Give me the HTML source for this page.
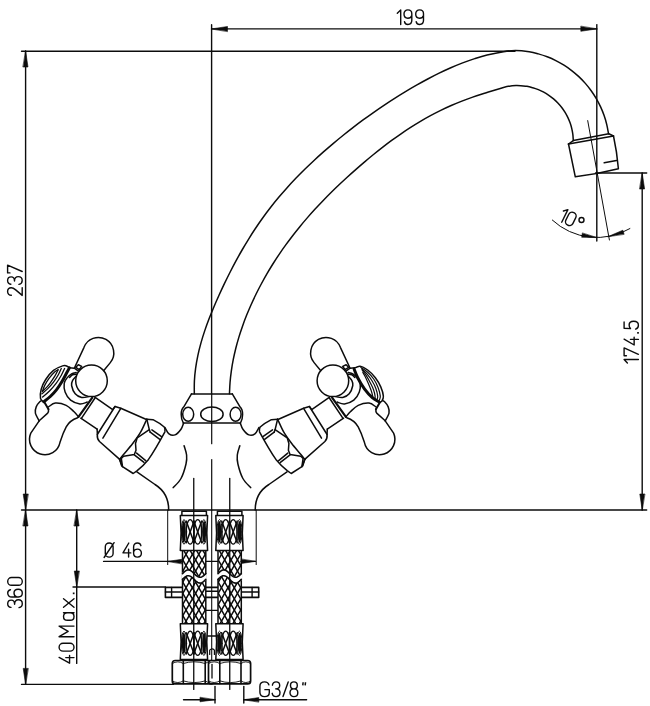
<!DOCTYPE html>
<html><head><meta charset="utf-8"><title>drawing</title>
<style>
html,body{margin:0;padding:0;background:#fff;}
svg{display:block;}
text{font-family:"Liberation Sans",sans-serif;fill:#0c0c0c;stroke:none;}
</style></head><body>
<svg width="650" height="706" viewBox="0 0 650 706">
<rect x="0" y="0" width="650" height="706" fill="#fff"/>
<g fill="none" stroke="#0c0c0c" stroke-width="1.5" stroke-linecap="round" stroke-linejoin="round">
<line x1="21.50" y1="51.20" x2="515.00" y2="51.20" stroke-width="1.4" />
<line x1="25.60" y1="51.00" x2="25.60" y2="684.40" stroke-width="1.4" />
<path d="M25.60 51.00 L28.00 67.00 L23.20 67.00 Z" fill="#0c0c0c" stroke="#0c0c0c" stroke-width="0.6"/>
<path d="M25.60 510.00 L23.20 494.00 L28.00 494.00 Z" fill="#0c0c0c" stroke="#0c0c0c" stroke-width="0.6"/>
<path d="M25.60 510.00 L28.00 526.00 L23.20 526.00 Z" fill="#0c0c0c" stroke="#0c0c0c" stroke-width="0.6"/>
<path d="M25.60 684.40 L23.20 668.40 L28.00 668.40 Z" fill="#0c0c0c" stroke="#0c0c0c" stroke-width="0.6"/>
<line x1="21.50" y1="510.00" x2="646.70" y2="510.00" stroke-width="1.4" />
<line x1="21.50" y1="684.40" x2="173.70" y2="684.40" stroke-width="1.4" />
<line x1="211.50" y1="28.90" x2="596.80" y2="28.90" stroke-width="1.4" />
<path d="M211.50 28.90 L227.50 26.50 L227.50 31.30 Z" fill="#0c0c0c" stroke="#0c0c0c" stroke-width="0.6"/>
<path d="M596.80 28.90 L580.80 31.30 L580.80 26.50 Z" fill="#0c0c0c" stroke="#0c0c0c" stroke-width="0.6"/>
<line x1="211.60" y1="24.80" x2="211.60" y2="394.00" stroke-width="1.4" />
<line x1="596.80" y1="24.60" x2="596.80" y2="241.00" stroke-width="1.4" />
<line x1="642.20" y1="173.00" x2="642.20" y2="510.00" stroke-width="1.4" />
<path d="M642.20 173.00 L644.60 189.00 L639.80 189.00 Z" fill="#0c0c0c" stroke="#0c0c0c" stroke-width="0.6"/>
<path d="M642.20 510.00 L639.80 494.00 L644.60 494.00 Z" fill="#0c0c0c" stroke="#0c0c0c" stroke-width="0.6"/>
<line x1="595.50" y1="173.00" x2="646.70" y2="173.00" stroke-width="1.4" />
<path d="M194.31 393.80 C194.32 391.65 194.18 385.19 194.40 380.92 C194.62 376.64 195.06 372.37 195.63 368.14 C196.20 363.91 196.96 359.71 197.84 355.53 C198.72 351.36 199.77 347.22 200.91 343.11 C202.05 339.00 203.33 334.92 204.69 330.88 C206.05 326.84 207.53 322.83 209.06 318.85 C210.59 314.87 212.21 310.92 213.87 306.99 C215.53 303.07 217.26 299.17 219.01 295.29 C220.77 291.40 222.56 287.54 224.40 283.69 C226.24 279.85 228.12 276.03 230.05 272.23 C231.98 268.43 233.96 264.65 235.98 260.91 C238.01 257.16 240.09 253.44 242.23 249.75 C244.36 246.06 246.55 242.40 248.80 238.78 C251.05 235.16 253.36 231.57 255.73 228.03 C258.09 224.48 260.52 220.98 263.02 217.52 C265.51 214.06 268.07 210.65 270.69 207.29 C273.31 203.93 276.00 200.61 278.74 197.35 C281.47 194.09 284.28 190.88 287.12 187.71 C289.97 184.54 292.87 181.43 295.82 178.35 C298.76 175.28 301.76 172.26 304.79 169.28 C307.83 166.30 310.91 163.37 314.02 160.47 C317.13 157.58 320.28 154.73 323.46 151.92 C326.65 149.11 329.86 146.34 333.11 143.60 C336.35 140.87 339.63 138.17 342.93 135.50 C346.23 132.84 349.56 130.21 352.92 127.62 C356.28 125.03 359.67 122.47 363.09 119.96 C366.50 117.44 369.95 114.96 373.43 112.52 C376.90 110.08 380.40 107.68 383.94 105.32 C387.47 102.96 391.03 100.64 394.63 98.36 C398.22 96.08 401.84 93.84 405.49 91.65 C409.14 89.46 412.82 87.30 416.53 85.20 C420.24 83.10 423.97 81.03 427.74 79.03 C431.51 77.03 435.31 75.07 439.16 73.19 C443.00 71.32 446.87 69.50 450.79 67.78 C454.70 66.07 458.66 64.42 462.65 62.89 C466.64 61.36 470.68 59.91 474.75 58.60 C478.81 57.29 482.27 56.16 487.07 55.01 C491.86 53.86 498.76 52.44 503.50 51.70 C508.24 50.96 511.22 50.59 515.50 50.60 C519.78 50.61 525.37 51.24 529.18 51.78 C532.98 52.32 535.32 53.01 538.33 53.85 C541.33 54.69 544.32 55.67 547.23 56.79 C550.14 57.92 553.02 59.18 555.81 60.58 C558.60 61.98 561.34 63.52 563.99 65.18 C566.63 66.84 569.21 68.64 571.68 70.55 C574.15 72.45 576.54 74.49 578.82 76.63 C581.10 78.76 583.28 81.02 585.34 83.37 C587.40 85.71 589.36 88.17 591.18 90.71 C593.01 93.24 594.72 95.87 596.29 98.57 C597.86 101.27 599.31 104.06 600.61 106.90 C601.92 109.73 603.09 112.65 604.11 115.60 C605.14 118.55 606.03 121.56 606.76 124.59 C607.50 127.63 608.24 132.27 608.53 133.80" />
<path d="M229.46 393.79 C229.56 391.87 229.75 386.11 230.06 382.28 C230.38 378.46 230.82 374.64 231.35 370.83 C231.89 367.03 232.54 363.24 233.28 359.47 C234.03 355.70 234.88 351.95 235.81 348.22 C236.75 344.50 237.79 340.79 238.90 337.11 C240.02 333.43 241.23 329.77 242.51 326.15 C243.79 322.52 245.15 318.92 246.58 315.34 C248.01 311.77 249.52 308.23 251.08 304.71 C252.65 301.19 254.29 297.71 255.98 294.25 C257.68 290.80 259.44 287.37 261.26 283.98 C263.08 280.59 264.96 277.22 266.89 273.90 C268.82 270.57 270.82 267.28 272.86 264.02 C274.91 260.77 277.01 257.54 279.16 254.36 C281.31 251.17 283.51 248.02 285.76 244.91 C288.01 241.79 290.31 238.71 292.65 235.67 C295.00 232.63 297.39 229.63 299.82 226.67 C302.25 223.70 304.73 220.77 307.24 217.88 C309.75 214.98 312.30 212.13 314.89 209.31 C317.48 206.48 320.10 203.70 322.76 200.94 C325.41 198.19 328.10 195.47 330.81 192.78 C333.53 190.09 336.28 187.43 339.05 184.80 C341.82 182.18 344.62 179.58 347.44 177.00 C350.27 174.43 353.12 171.89 355.99 169.37 C358.86 166.85 361.75 164.35 364.66 161.88 C367.58 159.41 370.52 156.96 373.49 154.54 C376.45 152.13 379.45 149.74 382.47 147.40 C385.50 145.05 388.56 142.74 391.65 140.47 C394.74 138.20 397.87 135.97 401.03 133.79 C404.19 131.62 407.38 129.48 410.62 127.41 C413.85 125.34 417.12 123.31 420.43 121.35 C423.74 119.40 427.09 117.50 430.47 115.67 C433.85 113.84 437.28 112.08 440.73 110.39 C444.19 108.70 447.68 107.09 451.20 105.54 C454.72 103.99 458.28 102.52 461.86 101.11 C465.44 99.71 469.05 98.38 472.68 97.12 C476.31 95.85 478.51 95.17 483.64 93.55 C488.78 91.93 498.11 88.76 503.50 87.40 C508.89 86.04 512.09 85.57 516.00 85.40 C519.91 85.23 524.15 85.97 526.94 86.35 C529.73 86.73 530.83 87.15 532.74 87.69 C534.64 88.24 536.52 88.90 538.36 89.64 C540.19 90.39 541.99 91.24 543.74 92.17 C545.48 93.11 547.18 94.14 548.82 95.26 C550.46 96.38 552.04 97.59 553.55 98.87 C555.06 100.15 556.50 101.52 557.87 102.96 C559.23 104.39 560.53 105.91 561.73 107.48 C562.93 109.05 564.06 110.69 565.09 112.38 C566.12 114.07 567.07 115.83 567.92 117.62 C568.76 119.41 569.52 121.25 570.17 123.12 C570.82 124.99 571.38 126.91 571.83 128.83 C572.28 130.76 572.63 132.72 572.87 134.69 C573.12 136.65 573.22 139.63 573.29 140.62" />
<path d="M568.50 144.00 L573.30 140.60 L608.80 133.80 L613.50 136.00" />
<line x1="568.50" y1="144.00" x2="613.50" y2="136.00" />
<path d="M568.5 144 L575.3 176.8 Q597 174.2 618.4 168.8 Q617 152 613.5 136" />
<line x1="604.20" y1="162.80" x2="616.50" y2="160.40" />
<line x1="587.70" y1="120.60" x2="609.40" y2="240.00" stroke-width="1.0" />
<path d="M552.33 220.08 A65.20 65.20 0 0 0 629.89 228.58" stroke-width="1.0" />
<path d="M596.80 237.60 L581.67 237.24 L582.30 233.29 Z" fill="#0c0c0c" stroke="#0c0c0c" stroke-width="0.6"/>
<path d="M608.10 236.60 L622.89 230.18 L624.02 234.02 Z" fill="#0c0c0c" stroke="#0c0c0c" stroke-width="0.6"/>
<line x1="191.50" y1="393.90" x2="232.30" y2="393.90" />
<path d="M191.50 393.9 L183.80 406.9 C180.20 410 180.60 418.5 183.40 423.1" />
<ellipse cx="188.20" cy="414.3" rx="5.5" ry="7.0"/>
<path d="M232.30 393.9 L240.00 406.9 C243.60 410 243.20 418.5 240.40 423.1" />
<ellipse cx="235.60" cy="414.3" rx="5.5" ry="7.0"/>
<ellipse cx="211.9" cy="414.3" rx="11.2" ry="7.2"/>
<line x1="183.40" y1="423.10" x2="240.40" y2="423.10" />
<path d="M183.60 423.10 C183.17 424.12 182.43 427.23 181.00 429.20 C179.57 431.17 177.00 434.12 175.00 434.90 C173.00 435.68 170.68 435.13 169.00 433.90 C167.32 432.67 165.58 428.57 164.90 427.50" />
<path d="M136.90 471.9 L155.00 484.5 C163.00 489.5 168.70 498 168.70 510" />
<path d="M184.10 445.80 C184.52 447.33 186.28 451.97 186.60 455.00 C186.92 458.03 186.93 460.08 186.00 464.00 C185.07 467.92 183.13 474.57 181.00 478.50 C178.87 482.43 174.50 486.08 173.20 487.60" />
<line x1="167.70" y1="510.00" x2="167.70" y2="564.60" stroke-width="1.0" />
<path d="M240.30 423.10 C240.73 424.12 241.47 427.23 242.90 429.20 C244.33 431.17 246.90 434.12 248.90 434.90 C250.90 435.68 253.22 435.13 254.90 433.90 C256.58 432.67 258.32 428.57 259.00 427.50" />
<path d="M287.00 471.9 L268.90 484.5 C260.90 489.5 255.20 498 255.20 510" />
<path d="M239.80 445.80 C239.38 447.33 237.62 451.97 237.30 455.00 C236.98 458.03 236.97 460.08 237.90 464.00 C238.83 467.92 240.77 474.57 242.90 478.50 C245.03 482.43 249.40 486.08 250.70 487.60" />
<line x1="256.20" y1="510.00" x2="256.20" y2="564.60" stroke-width="1.0" />
<line x1="211.70" y1="394.00" x2="211.70" y2="443.70" stroke-width="1.2" />
<line x1="211.70" y1="459.60" x2="211.70" y2="510.00" stroke-width="1.2" />
<g>
<path d="M74.3 368.2 L83.9 347.6 A15.4 15.4 0 1 1 110.3 362.6 L103 371.5" fill="#fff"/>
<path d="M69.50 367.80 L74.30 368.20 L78.50 371.20" />
<path d="M75.80 367.30 L78.30 364.80 L81.70 366.40 L79.20 369.60Z" fill="#fff"/>
<path d="M76.20 372.50 C75.43 372.73 73.15 372.97 71.60 373.90 C70.05 374.83 68.13 376.50 66.90 378.10 C65.67 379.70 64.50 381.20 64.20 383.50 C63.90 385.80 64.03 389.12 65.10 391.90 C66.17 394.68 68.13 398.20 70.60 400.20 C73.07 402.20 77.13 403.58 79.90 403.90 C82.67 404.22 85.98 402.40 87.20 402.10" fill="#fff"/>
<path d="M76.20 376.20 C75.60 376.92 73.37 378.95 72.60 380.50 C71.83 382.05 71.17 383.28 71.60 385.50 C72.03 387.72 73.52 391.80 75.20 393.80 C76.88 395.80 79.38 397.03 81.70 397.50 C84.02 397.97 87.87 396.75 89.10 396.60" />
<path d="M69.50 377.50 C70.00 377.05 71.17 375.35 72.50 374.80 C73.83 374.25 76.67 374.30 77.50 374.20" />
<circle cx="91.5" cy="380.8" r="15.8" fill="#fff"/>
<path d="M39.2 420.8 L30.8 433.1 A15.4 15.4 0 1 0 60 442.3 C62 436 64 431 66.2 426.9 C68 423.5 72 419.5 77.7 417.7" />
<path d="M39.20 420.80 C38.57 419.52 35.90 415.42 35.40 413.10 C34.90 410.78 35.43 408.83 36.20 406.90 C36.97 404.97 38.85 402.65 40.00 401.50 C41.15 400.35 42.58 400.25 43.10 400.00" />
<path d="M43.1 400 L48.5 409.2" stroke-width="2.0" />
<path d="M48.5 409.2 C48.8 411.5 48.2 412.5 47.7 413.1 L39.2 420.8" />
<path d="M48.50 406.90 C49.65 406.27 52.45 403.35 55.40 403.10 C58.35 402.85 63.13 404.00 66.20 405.40 C69.27 406.80 71.75 409.58 73.80 411.50 C75.85 413.42 77.72 416.00 78.50 416.90" />
<line x1="78.50" y1="416.90" x2="92.30" y2="397.70" stroke-width="2.2" />
<line x1="81.40" y1="418.40" x2="95.00" y2="398.00" />
<line x1="94.80" y1="397.10" x2="112.70" y2="409.60" />
<line x1="80.80" y1="418.20" x2="97.10" y2="429.10" />
<path d="M112.7 409.6 L115 406.5 L120.8 408.3 L147 419.7" />
<path d="M115 406.5 L97.3 434.5 C97 438 98 440 99.5 441.5 L119.7 459.4" />
<line x1="120.80" y1="408.30" x2="102.90" y2="438.20" />
<line x1="97.10" y1="429.10" x2="97.40" y2="434.50" />
<path d="M146.8 419.2 L153 419.7 Q160 423.3 164.2 427 Q165.6 429.5 164.9 431.8 Q155 450 148.5 459.4 Q143 466 137.2 470.7 L133.2 473.5 L122.5 466.7 L119.6 459.4" />
<path d="M146.80 419.20 C145.77 421.37 142.95 428.15 140.60 432.20 C138.25 436.25 135.55 439.78 132.70 443.50 C129.85 447.22 125.68 451.85 123.50 454.50 C121.32 457.15 120.25 458.58 119.60 459.40" />
<path d="M146.80 419.20 L149.30 429.60 L137.20 437.80 L135.50 443.50 L136.00 450.30 L134.30 454.50 L123.60 456.20 L121.30 458.40 L122.50 466.70" />
<line x1="150.20" y1="432.20" x2="159.80" y2="439.40" />
<line x1="151.90" y1="429.90" x2="161.50" y2="436.70" />
<line x1="149.30" y1="429.60" x2="150.20" y2="432.20" />
<line x1="134.30" y1="454.80" x2="144.00" y2="462.40" />
<line x1="136.60" y1="453.10" x2="145.70" y2="460.70" />
<line x1="119.60" y1="459.40" x2="121.60" y2="465.80" />
<path d="M43.60 402.00 C43.08 401.40 40.90 400.52 40.50 398.40 C40.10 396.28 40.33 392.45 41.20 389.30 C42.07 386.15 43.65 382.65 45.70 379.50 C47.75 376.35 50.68 372.67 53.50 370.40 C56.32 368.13 60.43 366.63 62.60 365.90 C64.77 365.17 65.35 365.68 66.50 366.00 C67.65 366.32 69.00 367.50 69.50 367.80 L69.40 367.90 L66.60 373.00 L62.00 381.50 L56.80 389.30 L50.30 396.50 L43.80 401.70Z" fill="#fff" stroke="none"/>
<path d="M43.60 402.00 C43.08 401.40 40.90 400.52 40.50 398.40 C40.10 396.28 40.33 392.45 41.20 389.30 C42.07 386.15 43.65 382.65 45.70 379.50 C47.75 376.35 50.68 372.67 53.50 370.40 C56.32 368.13 60.43 366.63 62.60 365.90 C64.77 365.17 65.35 365.68 66.50 366.00 C67.65 366.32 69.00 367.50 69.50 367.80" />
<path d="M43.80 401.70 C44.88 400.83 48.13 398.57 50.30 396.50 C52.47 394.43 54.85 391.80 56.80 389.30 C58.75 386.80 60.37 384.22 62.00 381.50 C63.63 378.78 65.37 375.27 66.60 373.00 C67.83 370.73 68.93 368.75 69.40 367.90" stroke-width="3.0" />
<path d="M42.50 397.10 C43.67 396.08 47.23 393.28 49.50 391.00 C51.77 388.72 54.15 385.98 56.10 383.40 C58.05 380.82 59.78 377.98 61.20 375.50 C62.62 373.02 64.03 369.67 64.60 368.50" stroke-width="1.3" />
<path d="M41.80 393.90 C42.80 393.02 45.85 390.57 47.80 388.60 C49.75 386.63 51.77 384.37 53.50 382.10 C55.23 379.83 56.90 377.27 58.20 375.00 C59.50 372.73 60.78 369.58 61.30 368.50" stroke-width="1.3" />
<path d="M42.50 391.30 C43.18 390.65 45.30 388.82 46.60 387.40 C47.90 385.98 48.93 384.67 50.30 382.80 C51.67 380.93 53.50 378.37 54.80 376.20 C56.10 374.03 57.55 370.87 58.10 369.80" stroke-width="1.3" />
<path d="M42.50 391.30 C42.85 390.35 43.48 387.78 44.60 385.60 C45.72 383.42 47.53 380.47 49.20 378.20 C50.87 375.93 53.12 373.40 54.60 372.00 C56.08 370.60 57.52 370.17 58.10 369.80" stroke-width="1.3" />
</g>
<g transform="translate(424.4,0) scale(-1,1)">
<path d="M74.3 368.2 L83.9 347.6 A15.4 15.4 0 1 1 110.3 362.6 L103 371.5" fill="#fff"/>
<path d="M69.50 367.80 L74.30 368.20 L78.50 371.20" />
<path d="M75.80 367.30 L78.30 364.80 L81.70 366.40 L79.20 369.60Z" fill="#fff"/>
<path d="M76.20 372.50 C75.43 372.73 73.15 372.97 71.60 373.90 C70.05 374.83 68.13 376.50 66.90 378.10 C65.67 379.70 64.50 381.20 64.20 383.50 C63.90 385.80 64.03 389.12 65.10 391.90 C66.17 394.68 68.13 398.20 70.60 400.20 C73.07 402.20 77.13 403.58 79.90 403.90 C82.67 404.22 85.98 402.40 87.20 402.10" fill="#fff"/>
<path d="M76.20 376.20 C75.60 376.92 73.37 378.95 72.60 380.50 C71.83 382.05 71.17 383.28 71.60 385.50 C72.03 387.72 73.52 391.80 75.20 393.80 C76.88 395.80 79.38 397.03 81.70 397.50 C84.02 397.97 87.87 396.75 89.10 396.60" />
<path d="M69.50 377.50 C70.00 377.05 71.17 375.35 72.50 374.80 C73.83 374.25 76.67 374.30 77.50 374.20" />
<circle cx="91.5" cy="380.8" r="15.8" fill="#fff"/>
<path d="M39.2 420.8 L30.8 433.1 A15.4 15.4 0 1 0 60 442.3 C62 436 64 431 66.2 426.9 C68 423.5 72 419.5 77.7 417.7" />
<path d="M39.20 420.80 C38.57 419.52 35.90 415.42 35.40 413.10 C34.90 410.78 35.43 408.83 36.20 406.90 C36.97 404.97 38.85 402.65 40.00 401.50 C41.15 400.35 42.58 400.25 43.10 400.00" />
<path d="M43.1 400 L48.5 409.2" stroke-width="2.0" />
<path d="M48.5 409.2 C48.8 411.5 48.2 412.5 47.7 413.1 L39.2 420.8" />
<path d="M48.50 406.90 C49.65 406.27 52.45 403.35 55.40 403.10 C58.35 402.85 63.13 404.00 66.20 405.40 C69.27 406.80 71.75 409.58 73.80 411.50 C75.85 413.42 77.72 416.00 78.50 416.90" />
<line x1="78.50" y1="416.90" x2="92.30" y2="397.70" stroke-width="2.2" />
<line x1="81.40" y1="418.40" x2="95.00" y2="398.00" />
<line x1="94.80" y1="397.10" x2="112.70" y2="409.60" />
<line x1="80.80" y1="418.20" x2="97.10" y2="429.10" />
<path d="M112.7 409.6 L115 406.5 L120.8 408.3 L147 419.7" />
<path d="M115 406.5 L97.3 434.5 C97 438 98 440 99.5 441.5 L119.7 459.4" />
<line x1="120.80" y1="408.30" x2="102.90" y2="438.20" />
<line x1="97.10" y1="429.10" x2="97.40" y2="434.50" />
<path d="M146.8 419.2 L153 419.7 Q160 423.3 164.2 427 Q165.6 429.5 164.9 431.8 Q155 450 148.5 459.4 Q143 466 137.2 470.7 L133.2 473.5 L122.5 466.7 L119.6 459.4" />
<path d="M146.80 419.20 C145.77 421.37 142.95 428.15 140.60 432.20 C138.25 436.25 135.55 439.78 132.70 443.50 C129.85 447.22 125.68 451.85 123.50 454.50 C121.32 457.15 120.25 458.58 119.60 459.40" />
<path d="M146.80 419.20 L149.30 429.60 L137.20 437.80 L135.50 443.50 L136.00 450.30 L134.30 454.50 L123.60 456.20 L121.30 458.40 L122.50 466.70" />
<line x1="150.20" y1="432.20" x2="159.80" y2="439.40" />
<line x1="151.90" y1="429.90" x2="161.50" y2="436.70" />
<line x1="149.30" y1="429.60" x2="150.20" y2="432.20" />
<line x1="134.30" y1="454.80" x2="144.00" y2="462.40" />
<line x1="136.60" y1="453.10" x2="145.70" y2="460.70" />
<line x1="119.60" y1="459.40" x2="121.60" y2="465.80" />
</g>
<path d="M353.85 368.46 C354.87 368.08 357.69 365.90 360.00 366.15 C362.31 366.41 365.13 368.08 367.69 370.00 C370.26 371.92 373.21 374.87 375.38 377.69 C377.56 380.51 379.44 383.85 380.77 386.92 C382.10 390.00 383.21 393.79 383.38 396.15 C383.56 398.51 382.49 400.05 381.85 401.08 C381.21 402.10 379.92 402.10 379.54 402.31 L379.23 402.00 L372.31 397.69 L364.62 389.23 L357.69 377.69 L354.15 369.23Z" fill="#fff" stroke="none"/>
<path d="M353.85 368.46 C354.87 368.08 357.69 365.90 360.00 366.15 C362.31 366.41 365.13 368.08 367.69 370.00 C370.26 371.92 373.21 374.87 375.38 377.69 C377.56 380.51 379.44 383.85 380.77 386.92 C382.10 390.00 383.21 393.79 383.38 396.15 C383.56 398.51 382.49 400.05 381.85 401.08 C381.21 402.10 379.92 402.10 379.54 402.31" />
<path d="M354.15 369.23 C354.74 370.64 355.95 374.36 357.69 377.69 C359.44 381.03 362.18 385.90 364.62 389.23 C367.05 392.56 369.87 395.56 372.31 397.69 C374.74 399.82 378.08 401.28 379.23 402.00" stroke-width="3.0" />
<path d="M360.77 367.38 C361.92 368.21 365.51 370.33 367.69 372.31 C369.87 374.28 372.10 376.67 373.85 379.23 C375.59 381.79 377.08 384.87 378.15 387.69 C379.23 390.51 380.13 394.03 380.31 396.15 C380.49 398.28 379.41 399.74 379.23 400.46" stroke-width="1.2" />
<path d="M361.54 368.77 C362.44 369.62 365.18 371.85 366.92 373.85 C368.67 375.85 370.51 378.33 372.00 380.77 C373.49 383.21 374.90 385.90 375.85 388.46 C376.79 391.03 377.51 394.23 377.69 396.15 C377.87 398.08 377.05 399.36 376.92 400.00" stroke-width="1.2" />
<path d="M362.31 370.31 C362.95 371.15 364.87 373.38 366.15 375.38 C367.44 377.38 368.77 379.92 370.00 382.31 C371.23 384.69 372.69 387.38 373.54 389.69 C374.38 392.00 374.85 394.56 375.08 396.15 C375.31 397.74 374.95 398.72 374.92 399.23" stroke-width="1.2" />
<path d="M362.77 372.31 C363.21 373.08 364.44 375.00 365.38 376.92 C366.33 378.85 367.51 381.62 368.46 383.85 C369.41 386.08 370.38 388.31 371.08 390.31 C371.77 392.31 372.31 394.49 372.62 395.85 C372.92 397.21 372.87 398.03 372.92 398.46" stroke-width="1.2" />
<defs>
<clipPath id="hc0"><rect x="182.50" y="550.8" width="23.30" height="73.4"/></clipPath>
<clipPath id="hc1"><rect x="218.00" y="550.8" width="23.30" height="73.4"/></clipPath>
</defs>
<rect x="165.4" y="587.4" width="93.3" height="10" fill="#fff" stroke-width="1.6"/>
<line x1="165.40" y1="592.00" x2="182.00" y2="592.00" stroke-width="1.4" />
<line x1="241.00" y1="592.00" x2="258.70" y2="592.00" stroke-width="1.4" />
<line x1="171.60" y1="587.40" x2="171.60" y2="597.40" stroke-width="1.4" />
<line x1="252.10" y1="587.40" x2="252.10" y2="597.40" stroke-width="1.4" />
<line x1="205.80" y1="591.20" x2="218.00" y2="591.20" stroke-width="1.4" />
<line x1="205.80" y1="561.40" x2="218.00" y2="561.40" stroke-width="1.4" />
<line x1="205.80" y1="610.30" x2="218.00" y2="610.30" stroke-width="1.3" />
<line x1="207.60" y1="636.00" x2="216.20" y2="636.00" stroke-width="1.3" />
<path d="M209.7 654.5 L209.7 650.2 Q212 647.6 214.4 650.2 L214.4 654.5" stroke-width="1.2" />
<line x1="211.70" y1="510.00" x2="211.70" y2="661.00" stroke-width="1.1" />
<rect x="182.50" y="550.8" width="23.30" height="73.4" fill="#fff" stroke="none"/>
<g clip-path="url(#hc0)" stroke-width="1.0">
<line x1="78.22" y1="545.00" x2="128.22" y2="632.00" stroke-width="1.5" />
<line x1="140.18" y1="545.00" x2="90.18" y2="632.00" stroke-width="1.5" />
<line x1="84.62" y1="545.00" x2="134.62" y2="632.00" stroke-width="1.5" />
<line x1="146.58" y1="545.00" x2="96.58" y2="632.00" stroke-width="1.5" />
<line x1="91.02" y1="545.00" x2="141.02" y2="632.00" stroke-width="1.5" />
<line x1="152.98" y1="545.00" x2="102.98" y2="632.00" stroke-width="1.5" />
<line x1="97.42" y1="545.00" x2="147.42" y2="632.00" stroke-width="1.5" />
<line x1="159.38" y1="545.00" x2="109.38" y2="632.00" stroke-width="1.5" />
<line x1="103.82" y1="545.00" x2="153.82" y2="632.00" stroke-width="1.5" />
<line x1="165.78" y1="545.00" x2="115.78" y2="632.00" stroke-width="1.5" />
<line x1="110.22" y1="545.00" x2="160.22" y2="632.00" stroke-width="1.5" />
<line x1="172.18" y1="545.00" x2="122.18" y2="632.00" stroke-width="1.5" />
<line x1="116.62" y1="545.00" x2="166.62" y2="632.00" stroke-width="1.5" />
<line x1="178.58" y1="545.00" x2="128.58" y2="632.00" stroke-width="1.5" />
<line x1="123.02" y1="545.00" x2="173.02" y2="632.00" stroke-width="1.5" />
<line x1="184.98" y1="545.00" x2="134.98" y2="632.00" stroke-width="1.5" />
<line x1="129.42" y1="545.00" x2="179.42" y2="632.00" stroke-width="1.5" />
<line x1="191.38" y1="545.00" x2="141.38" y2="632.00" stroke-width="1.5" />
<line x1="135.82" y1="545.00" x2="185.82" y2="632.00" stroke-width="1.5" />
<line x1="197.78" y1="545.00" x2="147.78" y2="632.00" stroke-width="1.5" />
<line x1="142.22" y1="545.00" x2="192.22" y2="632.00" stroke-width="1.5" />
<line x1="204.18" y1="545.00" x2="154.18" y2="632.00" stroke-width="1.5" />
<line x1="148.62" y1="545.00" x2="198.62" y2="632.00" stroke-width="1.5" />
<line x1="210.58" y1="545.00" x2="160.58" y2="632.00" stroke-width="1.5" />
<line x1="155.02" y1="545.00" x2="205.02" y2="632.00" stroke-width="1.5" />
<line x1="216.98" y1="545.00" x2="166.98" y2="632.00" stroke-width="1.5" />
<line x1="161.42" y1="545.00" x2="211.42" y2="632.00" stroke-width="1.5" />
<line x1="223.38" y1="545.00" x2="173.38" y2="632.00" stroke-width="1.5" />
<line x1="167.82" y1="545.00" x2="217.82" y2="632.00" stroke-width="1.5" />
<line x1="229.78" y1="545.00" x2="179.78" y2="632.00" stroke-width="1.5" />
<line x1="174.22" y1="545.00" x2="224.22" y2="632.00" stroke-width="1.5" />
<line x1="236.18" y1="545.00" x2="186.18" y2="632.00" stroke-width="1.5" />
<line x1="180.62" y1="545.00" x2="230.62" y2="632.00" stroke-width="1.5" />
<line x1="242.58" y1="545.00" x2="192.58" y2="632.00" stroke-width="1.5" />
<line x1="187.02" y1="545.00" x2="237.02" y2="632.00" stroke-width="1.5" />
<line x1="248.98" y1="545.00" x2="198.98" y2="632.00" stroke-width="1.5" />
<line x1="193.42" y1="545.00" x2="243.42" y2="632.00" stroke-width="1.5" />
<line x1="255.38" y1="545.00" x2="205.38" y2="632.00" stroke-width="1.5" />
<line x1="199.82" y1="545.00" x2="249.82" y2="632.00" stroke-width="1.5" />
<line x1="261.78" y1="545.00" x2="211.78" y2="632.00" stroke-width="1.5" />
<line x1="206.22" y1="545.00" x2="256.22" y2="632.00" stroke-width="1.5" />
<line x1="268.18" y1="545.00" x2="218.18" y2="632.00" stroke-width="1.5" />
<line x1="212.62" y1="545.00" x2="262.62" y2="632.00" stroke-width="1.5" />
<line x1="274.58" y1="545.00" x2="224.58" y2="632.00" stroke-width="1.5" />
<line x1="219.02" y1="545.00" x2="269.02" y2="632.00" stroke-width="1.5" />
<line x1="280.98" y1="545.00" x2="230.98" y2="632.00" stroke-width="1.5" />
<line x1="225.42" y1="545.00" x2="275.42" y2="632.00" stroke-width="1.5" />
<line x1="287.38" y1="545.00" x2="237.38" y2="632.00" stroke-width="1.5" />
<line x1="231.82" y1="545.00" x2="281.82" y2="632.00" stroke-width="1.5" />
<line x1="293.78" y1="545.00" x2="243.78" y2="632.00" stroke-width="1.5" />
</g>
<line x1="182.50" y1="550.80" x2="182.50" y2="624.20" />
<line x1="205.80" y1="550.80" x2="205.80" y2="624.20" />
<path d="M181.50 573.60 L182.60 572.60 L183.70 571.68 L184.80 570.90 L185.90 570.31 L187.00 569.98 L188.10 569.91 L189.20 570.11 L190.30 570.58 L191.40 571.26 L192.50 572.13 L193.60 573.10 L194.70 574.10 L195.80 575.07 L196.90 575.94 L198.00 576.62 L199.10 577.09 L200.20 577.29 L201.30 577.22 L202.40 576.89 L203.50 576.30 L204.60 575.52 L205.70 574.60 L206.80 573.60 L206.80 579.40 L205.70 580.40 L204.60 581.32 L203.50 582.10 L202.40 582.69 L201.30 583.02 L200.20 583.09 L199.10 582.89 L198.00 582.42 L196.90 581.74 L195.80 580.87 L194.70 579.90 L193.60 578.90 L192.50 577.93 L191.40 577.06 L190.30 576.38 L189.20 575.91 L188.10 575.71 L187.00 575.78 L185.90 576.11 L184.80 576.70 L183.70 577.48 L182.60 578.40 L181.50 579.40 Z" fill="#fff" stroke="none"/>
<path d="M182.50 573.60 L183.51 572.60 L184.53 571.68 L185.54 570.90 L186.55 570.31 L187.57 569.98 L188.58 569.91 L189.59 570.11 L190.60 570.58 L191.62 571.26 L192.63 572.13 L193.64 573.10 L194.66 574.10 L195.67 575.07 L196.68 575.94 L197.70 576.62 L198.71 577.09 L199.72 577.29 L200.73 577.22 L201.75 576.89 L202.76 576.30 L203.77 575.52 L204.79 574.60 L205.80 573.60" stroke-width="1.6" />
<path d="M182.50 579.40 L183.51 578.40 L184.53 577.48 L185.54 576.70 L186.55 576.11 L187.57 575.78 L188.58 575.71 L189.59 575.91 L190.60 576.38 L191.62 577.06 L192.63 577.93 L193.64 578.90 L194.66 579.90 L195.67 580.87 L196.68 581.74 L197.70 582.42 L198.71 582.89 L199.72 583.09 L200.73 583.02 L201.75 582.69 L202.76 582.10 L203.77 581.32 L204.79 580.40 L205.80 579.40" stroke-width="1.6" />
<rect x="181.90" y="511.2" width="24.50" height="4.8" fill="#fff"/>
<path d="M180.30 515.60 L207.60 515.60 C206.50 527.85 206.50 538.35 207.60 550.60 L180.30 550.60 C181.40 538.35 181.40 527.85 180.30 515.60 Z" fill="#fff"/>
<ellipse cx="183.80" cy="531.90" rx="2.0" ry="10.80" fill="#0c0c0c" stroke="none"/>
<ellipse cx="204.10" cy="531.90" rx="2.0" ry="10.80" fill="#0c0c0c" stroke="none"/>
<ellipse cx="184.00" cy="531.90" rx="2.6" ry="12.30" stroke-width="1.0"/>
<ellipse cx="203.90" cy="531.90" rx="2.6" ry="12.30" stroke-width="1.0"/>
<line x1="186.20" y1="521.10" x2="194.15" y2="542.70" stroke-width="1.5" />
<line x1="194.15" y1="521.10" x2="186.20" y2="542.70" stroke-width="1.5" />
<ellipse cx="190.18" cy="531.90" rx="3.98" ry="12.30" stroke-width="1.3"/>
<line x1="193.75" y1="521.10" x2="201.70" y2="542.70" stroke-width="1.5" />
<line x1="201.70" y1="521.10" x2="193.75" y2="542.70" stroke-width="1.5" />
<ellipse cx="197.73" cy="531.90" rx="3.98" ry="12.30" stroke-width="1.3"/>
<path d="M180.30 623.80 L207.60 623.80 C206.50 636.33 206.50 647.07 207.60 659.60 L180.30 659.60 C181.40 647.07 181.40 636.33 180.30 623.80 Z" fill="#fff"/>
<ellipse cx="183.80" cy="643.30" rx="2.0" ry="10.60" fill="#0c0c0c" stroke="none"/>
<ellipse cx="204.10" cy="643.30" rx="2.0" ry="10.60" fill="#0c0c0c" stroke="none"/>
<ellipse cx="184.00" cy="643.30" rx="2.6" ry="12.10" stroke-width="1.0"/>
<ellipse cx="203.90" cy="643.30" rx="2.6" ry="12.10" stroke-width="1.0"/>
<line x1="186.20" y1="632.70" x2="194.15" y2="653.90" stroke-width="1.5" />
<line x1="194.15" y1="632.70" x2="186.20" y2="653.90" stroke-width="1.5" />
<ellipse cx="190.18" cy="643.30" rx="3.98" ry="12.10" stroke-width="1.3"/>
<line x1="193.75" y1="632.70" x2="201.70" y2="653.90" stroke-width="1.5" />
<line x1="201.70" y1="632.70" x2="193.75" y2="653.90" stroke-width="1.5" />
<ellipse cx="197.73" cy="643.30" rx="3.98" ry="12.10" stroke-width="1.3"/>
<rect x="218.00" y="550.8" width="23.30" height="73.4" fill="#fff" stroke="none"/>
<g clip-path="url(#hc1)" stroke-width="1.0">
<line x1="113.72" y1="545.00" x2="163.72" y2="632.00" stroke-width="1.5" />
<line x1="175.68" y1="545.00" x2="125.68" y2="632.00" stroke-width="1.5" />
<line x1="120.12" y1="545.00" x2="170.12" y2="632.00" stroke-width="1.5" />
<line x1="182.08" y1="545.00" x2="132.08" y2="632.00" stroke-width="1.5" />
<line x1="126.52" y1="545.00" x2="176.52" y2="632.00" stroke-width="1.5" />
<line x1="188.48" y1="545.00" x2="138.48" y2="632.00" stroke-width="1.5" />
<line x1="132.92" y1="545.00" x2="182.92" y2="632.00" stroke-width="1.5" />
<line x1="194.88" y1="545.00" x2="144.88" y2="632.00" stroke-width="1.5" />
<line x1="139.32" y1="545.00" x2="189.32" y2="632.00" stroke-width="1.5" />
<line x1="201.28" y1="545.00" x2="151.28" y2="632.00" stroke-width="1.5" />
<line x1="145.72" y1="545.00" x2="195.72" y2="632.00" stroke-width="1.5" />
<line x1="207.68" y1="545.00" x2="157.68" y2="632.00" stroke-width="1.5" />
<line x1="152.12" y1="545.00" x2="202.12" y2="632.00" stroke-width="1.5" />
<line x1="214.08" y1="545.00" x2="164.08" y2="632.00" stroke-width="1.5" />
<line x1="158.52" y1="545.00" x2="208.52" y2="632.00" stroke-width="1.5" />
<line x1="220.48" y1="545.00" x2="170.48" y2="632.00" stroke-width="1.5" />
<line x1="164.92" y1="545.00" x2="214.92" y2="632.00" stroke-width="1.5" />
<line x1="226.88" y1="545.00" x2="176.88" y2="632.00" stroke-width="1.5" />
<line x1="171.32" y1="545.00" x2="221.32" y2="632.00" stroke-width="1.5" />
<line x1="233.28" y1="545.00" x2="183.28" y2="632.00" stroke-width="1.5" />
<line x1="177.72" y1="545.00" x2="227.72" y2="632.00" stroke-width="1.5" />
<line x1="239.68" y1="545.00" x2="189.68" y2="632.00" stroke-width="1.5" />
<line x1="184.12" y1="545.00" x2="234.12" y2="632.00" stroke-width="1.5" />
<line x1="246.08" y1="545.00" x2="196.08" y2="632.00" stroke-width="1.5" />
<line x1="190.52" y1="545.00" x2="240.52" y2="632.00" stroke-width="1.5" />
<line x1="252.48" y1="545.00" x2="202.48" y2="632.00" stroke-width="1.5" />
<line x1="196.92" y1="545.00" x2="246.92" y2="632.00" stroke-width="1.5" />
<line x1="258.88" y1="545.00" x2="208.88" y2="632.00" stroke-width="1.5" />
<line x1="203.32" y1="545.00" x2="253.32" y2="632.00" stroke-width="1.5" />
<line x1="265.28" y1="545.00" x2="215.28" y2="632.00" stroke-width="1.5" />
<line x1="209.72" y1="545.00" x2="259.72" y2="632.00" stroke-width="1.5" />
<line x1="271.68" y1="545.00" x2="221.68" y2="632.00" stroke-width="1.5" />
<line x1="216.12" y1="545.00" x2="266.12" y2="632.00" stroke-width="1.5" />
<line x1="278.08" y1="545.00" x2="228.08" y2="632.00" stroke-width="1.5" />
<line x1="222.52" y1="545.00" x2="272.52" y2="632.00" stroke-width="1.5" />
<line x1="284.48" y1="545.00" x2="234.48" y2="632.00" stroke-width="1.5" />
<line x1="228.92" y1="545.00" x2="278.92" y2="632.00" stroke-width="1.5" />
<line x1="290.88" y1="545.00" x2="240.88" y2="632.00" stroke-width="1.5" />
<line x1="235.32" y1="545.00" x2="285.32" y2="632.00" stroke-width="1.5" />
<line x1="297.28" y1="545.00" x2="247.28" y2="632.00" stroke-width="1.5" />
<line x1="241.72" y1="545.00" x2="291.72" y2="632.00" stroke-width="1.5" />
<line x1="303.68" y1="545.00" x2="253.68" y2="632.00" stroke-width="1.5" />
<line x1="248.12" y1="545.00" x2="298.12" y2="632.00" stroke-width="1.5" />
<line x1="310.08" y1="545.00" x2="260.08" y2="632.00" stroke-width="1.5" />
<line x1="254.52" y1="545.00" x2="304.52" y2="632.00" stroke-width="1.5" />
<line x1="316.48" y1="545.00" x2="266.48" y2="632.00" stroke-width="1.5" />
<line x1="260.92" y1="545.00" x2="310.92" y2="632.00" stroke-width="1.5" />
<line x1="322.88" y1="545.00" x2="272.88" y2="632.00" stroke-width="1.5" />
<line x1="267.32" y1="545.00" x2="317.32" y2="632.00" stroke-width="1.5" />
<line x1="329.28" y1="545.00" x2="279.28" y2="632.00" stroke-width="1.5" />
</g>
<line x1="218.00" y1="550.80" x2="218.00" y2="624.20" />
<line x1="241.30" y1="550.80" x2="241.30" y2="624.20" />
<path d="M217.00 573.60 L218.10 572.60 L219.20 571.68 L220.30 570.90 L221.40 570.31 L222.50 569.98 L223.60 569.91 L224.70 570.11 L225.80 570.58 L226.90 571.26 L228.00 572.13 L229.10 573.10 L230.20 574.10 L231.30 575.07 L232.40 575.94 L233.50 576.62 L234.60 577.09 L235.70 577.29 L236.80 577.22 L237.90 576.89 L239.00 576.30 L240.10 575.52 L241.20 574.60 L242.30 573.60 L242.30 579.40 L241.20 580.40 L240.10 581.32 L239.00 582.10 L237.90 582.69 L236.80 583.02 L235.70 583.09 L234.60 582.89 L233.50 582.42 L232.40 581.74 L231.30 580.87 L230.20 579.90 L229.10 578.90 L228.00 577.93 L226.90 577.06 L225.80 576.38 L224.70 575.91 L223.60 575.71 L222.50 575.78 L221.40 576.11 L220.30 576.70 L219.20 577.48 L218.10 578.40 L217.00 579.40 Z" fill="#fff" stroke="none"/>
<path d="M218.00 573.60 L219.01 572.60 L220.03 571.68 L221.04 570.90 L222.05 570.31 L223.07 569.98 L224.08 569.91 L225.09 570.11 L226.10 570.58 L227.12 571.26 L228.13 572.13 L229.14 573.10 L230.16 574.10 L231.17 575.07 L232.18 575.94 L233.20 576.62 L234.21 577.09 L235.22 577.29 L236.23 577.22 L237.25 576.89 L238.26 576.30 L239.27 575.52 L240.29 574.60 L241.30 573.60" stroke-width="1.6" />
<path d="M218.00 579.40 L219.01 578.40 L220.03 577.48 L221.04 576.70 L222.05 576.11 L223.07 575.78 L224.08 575.71 L225.09 575.91 L226.10 576.38 L227.12 577.06 L228.13 577.93 L229.14 578.90 L230.16 579.90 L231.17 580.87 L232.18 581.74 L233.20 582.42 L234.21 582.89 L235.22 583.09 L236.23 583.02 L237.25 582.69 L238.26 582.10 L239.27 581.32 L240.29 580.40 L241.30 579.40" stroke-width="1.6" />
<rect x="217.40" y="511.2" width="24.50" height="4.8" fill="#fff"/>
<path d="M215.80 515.60 L243.10 515.60 C242.00 527.85 242.00 538.35 243.10 550.60 L215.80 550.60 C216.90 538.35 216.90 527.85 215.80 515.60 Z" fill="#fff"/>
<ellipse cx="219.30" cy="531.90" rx="2.0" ry="10.80" fill="#0c0c0c" stroke="none"/>
<ellipse cx="239.60" cy="531.90" rx="2.0" ry="10.80" fill="#0c0c0c" stroke="none"/>
<ellipse cx="219.50" cy="531.90" rx="2.6" ry="12.30" stroke-width="1.0"/>
<ellipse cx="239.40" cy="531.90" rx="2.6" ry="12.30" stroke-width="1.0"/>
<line x1="221.70" y1="521.10" x2="229.65" y2="542.70" stroke-width="1.5" />
<line x1="229.65" y1="521.10" x2="221.70" y2="542.70" stroke-width="1.5" />
<ellipse cx="225.68" cy="531.90" rx="3.98" ry="12.30" stroke-width="1.3"/>
<line x1="229.25" y1="521.10" x2="237.20" y2="542.70" stroke-width="1.5" />
<line x1="237.20" y1="521.10" x2="229.25" y2="542.70" stroke-width="1.5" />
<ellipse cx="233.23" cy="531.90" rx="3.98" ry="12.30" stroke-width="1.3"/>
<path d="M215.80 623.80 L243.10 623.80 C242.00 636.33 242.00 647.07 243.10 659.60 L215.80 659.60 C216.90 647.07 216.90 636.33 215.80 623.80 Z" fill="#fff"/>
<ellipse cx="219.30" cy="643.30" rx="2.0" ry="10.60" fill="#0c0c0c" stroke="none"/>
<ellipse cx="239.60" cy="643.30" rx="2.0" ry="10.60" fill="#0c0c0c" stroke="none"/>
<ellipse cx="219.50" cy="643.30" rx="2.6" ry="12.10" stroke-width="1.0"/>
<ellipse cx="239.40" cy="643.30" rx="2.6" ry="12.10" stroke-width="1.0"/>
<line x1="221.70" y1="632.70" x2="229.65" y2="653.90" stroke-width="1.5" />
<line x1="229.65" y1="632.70" x2="221.70" y2="653.90" stroke-width="1.5" />
<ellipse cx="225.68" cy="643.30" rx="3.98" ry="12.10" stroke-width="1.3"/>
<line x1="229.25" y1="632.70" x2="237.20" y2="653.90" stroke-width="1.5" />
<line x1="237.20" y1="632.70" x2="229.25" y2="653.90" stroke-width="1.5" />
<ellipse cx="233.23" cy="643.30" rx="3.98" ry="12.10" stroke-width="1.3"/>
<path d="M172.30 663.50 Q172.30 660.50 175.30 660.50 L211.00 660.50 Q214.00 660.50 214.00 663.50 L214.00 680.90 Q214.00 683.90 211.00 683.90 L175.30 683.90 Q172.30 683.90 172.30 680.90 Z" fill="#fff" stroke-width="1.7"/>
<line x1="183.30" y1="661.00" x2="183.30" y2="683.40" stroke-width="1.6" />
<line x1="205.20" y1="661.00" x2="205.20" y2="683.40" stroke-width="1.6" />
<path d="M172.30 663.50 Q177.80 660.00 183.30 663.50" stroke-width="0.9" />
<path d="M172.30 680.90 Q177.80 684.40 183.30 680.90" stroke-width="0.9" />
<path d="M183.30 663.50 Q194.25 660.00 205.20 663.50" stroke-width="0.9" />
<path d="M183.30 680.90 Q194.25 684.40 205.20 680.90" stroke-width="0.9" />
<path d="M205.20 663.50 Q209.60 660.00 214.00 663.50" stroke-width="0.9" />
<path d="M205.20 680.90 Q209.60 684.40 214.00 680.90" stroke-width="0.9" />
<path d="M208.50 663.50 Q208.50 660.50 211.50 660.50 L247.60 660.50 Q250.60 660.50 250.60 663.50 L250.60 680.90 Q250.60 683.90 247.60 683.90 L211.50 683.90 Q208.50 683.90 208.50 680.90 Z" fill="#fff" stroke-width="1.7"/>
<line x1="219.80" y1="661.00" x2="219.80" y2="683.40" stroke-width="1.6" />
<line x1="241.00" y1="661.00" x2="241.00" y2="683.40" stroke-width="1.6" />
<path d="M208.50 663.50 Q214.15 660.00 219.80 663.50" stroke-width="0.9" />
<path d="M208.50 680.90 Q214.15 684.40 219.80 680.90" stroke-width="0.9" />
<path d="M219.80 663.50 Q230.40 660.00 241.00 663.50" stroke-width="0.9" />
<path d="M219.80 680.90 Q230.40 684.40 241.00 680.90" stroke-width="0.9" />
<path d="M241.00 663.50 Q245.80 660.00 250.60 663.50" stroke-width="0.9" />
<path d="M241.00 680.90 Q245.80 684.40 250.60 680.90" stroke-width="0.9" />
<line x1="193.75" y1="478.50" x2="193.75" y2="689.40" stroke-width="1.3" />
<line x1="229.75" y1="478.50" x2="229.75" y2="689.40" stroke-width="1.3" />
<line x1="212.00" y1="664.50" x2="212.00" y2="678.00" stroke-width="1.3" />
<line x1="76.70" y1="510.00" x2="76.70" y2="663.40" stroke-width="1.4" />
<path d="M76.70 510.00 L79.10 526.00 L74.30 526.00 Z" fill="#0c0c0c" stroke="#0c0c0c" stroke-width="0.6"/>
<path d="M76.70 587.00 L74.30 571.00 L79.10 571.00 Z" fill="#0c0c0c" stroke="#0c0c0c" stroke-width="0.6"/>
<line x1="73.00" y1="587.00" x2="165.40" y2="587.00" stroke-width="1.4" />
<line x1="103.60" y1="561.40" x2="182.00" y2="561.40" stroke-width="1.4" />
<path d="M167.70 561.40 L181.70 559.30 L181.70 563.50 Z" fill="#0c0c0c" stroke="#0c0c0c" stroke-width="0.6"/>
<line x1="241.00" y1="561.40" x2="255.30" y2="561.40" stroke-width="1.4" />
<path d="M255.30 561.40 L241.30 563.50 L241.30 559.30 Z" fill="#0c0c0c" stroke="#0c0c0c" stroke-width="0.6"/>
<line x1="215.00" y1="686.50" x2="215.00" y2="703.00" stroke-width="1.4" />
<line x1="243.80" y1="686.50" x2="243.80" y2="703.00" stroke-width="1.4" />
<line x1="183.50" y1="699.70" x2="215.00" y2="699.70" stroke-width="1.4" />
<path d="M215.00 699.70 L200.00 701.80 L200.00 697.60 Z" fill="#0c0c0c" stroke="#0c0c0c" stroke-width="0.6"/>
<line x1="243.80" y1="699.70" x2="306.60" y2="699.70" stroke-width="1.4" />
<path d="M243.80 699.70 L258.80 697.60 L258.80 701.80 Z" fill="#0c0c0c" stroke="#0c0c0c" stroke-width="0.6"/>
<g transform="translate(396.10,9.20) rotate(0.0) translate(1.20,0.70) scale(1.000,0.986)"><path d="M0 3.4 L3.4 0 L3.4 14.8" stroke-width="1.40" vector-effect="non-scaling-stroke"/></g>
<g transform="translate(396.10,9.20) rotate(0.0) translate(7.90,0.70) scale(1.000,0.986)"><path d="M0.5 12 C0.9 13.7 2.2 14.8 3.9 14.8 C6.2 14.8 7.8 13.2 7.8 10.6 L7.8 4 C7.8 1.6 6.2 0 3.9 0 C1.6 0 0 1.6 0 4.2 C0 6.8 1.6 8.4 3.9 8.4 C5.9 8.4 7.3 7.2 7.8 5.6" stroke-width="1.40" vector-effect="non-scaling-stroke"/></g>
<g transform="translate(396.10,9.20) rotate(0.0) translate(19.60,0.70) scale(1.000,0.986)"><path d="M0.5 12 C0.9 13.7 2.2 14.8 3.9 14.8 C6.2 14.8 7.8 13.2 7.8 10.6 L7.8 4 C7.8 1.6 6.2 0 3.9 0 C1.6 0 0 1.6 0 4.2 C0 6.8 1.6 8.4 3.9 8.4 C5.9 8.4 7.3 7.2 7.8 5.6" stroke-width="1.40" vector-effect="non-scaling-stroke"/></g>
<g transform="translate(6.90,296.10) rotate(-90.0) translate(0.70,0.70) scale(1.000,0.986)"><path d="M0.1 3.8 C0.1 1.5 1.7 0 3.9 0 C6.1 0 7.7 1.5 7.7 3.7 C7.7 5.5 6.8 6.7 5.5 8.2 L0 14.8 L7.8 14.8" stroke-width="1.40" vector-effect="non-scaling-stroke"/></g>
<g transform="translate(6.90,296.10) rotate(-90.0) translate(11.70,0.70) scale(1.000,0.986)"><path d="M0.2 3.3 C0.5 1.3 1.9 0 3.9 0 C6.1 0 7.5 1.5 7.5 3.6 C7.5 5.8 6 7 3.4 7 C6.2 7 7.8 8.5 7.8 10.8 C7.8 13.2 6.2 14.8 3.9 14.8 C1.8 14.8 0.4 13.5 0 11.5" stroke-width="1.40" vector-effect="non-scaling-stroke"/></g>
<g transform="translate(6.90,296.10) rotate(-90.0) translate(23.20,0.70) scale(1.000,0.986)"><path d="M0 2.4 L0 0 L7.8 0 L1.4 14.8" stroke-width="1.40" vector-effect="non-scaling-stroke"/></g>
<g transform="translate(623.40,363.60) rotate(-90.0) translate(0.70,0.70) scale(1.000,0.966)"><path d="M0 3.4 L3.4 0 L3.4 14.8" stroke-width="1.40" vector-effect="non-scaling-stroke"/></g>
<g transform="translate(623.40,363.60) rotate(-90.0) translate(7.90,0.70) scale(1.000,0.966)"><path d="M0 2.4 L0 0 L7.8 0 L1.4 14.8" stroke-width="1.40" vector-effect="non-scaling-stroke"/></g>
<g transform="translate(623.40,363.60) rotate(-90.0) translate(18.60,0.70) scale(1.000,0.966)"><path d="M5.8 0 L0 10.4 L7.8 10.4 M5.6 6.6 L5.6 14.8" stroke-width="1.40" vector-effect="non-scaling-stroke"/></g>
<g transform="translate(623.40,363.60) rotate(-90.0)"><rect x="29.90" y="13.76" width="1.7" height="1.7" fill="#0c0c0c" stroke="none"/></g>
<g transform="translate(623.40,363.60) rotate(-90.0) translate(34.50,0.70) scale(1.000,0.966)"><path d="M7.2 0 L0.9 0 L0.5 6.6 C1.5 5.6 2.7 5.2 4 5.2 C6.3 5.2 7.8 7.1 7.8 9.9 C7.8 12.9 6.2 14.8 3.9 14.8 C1.9 14.8 0.5 13.7 0 11.9" stroke-width="1.40" vector-effect="non-scaling-stroke"/></g>
<g transform="translate(7.00,608.30) rotate(-90.0) translate(0.70,0.70) scale(1.000,0.986)"><path d="M0.2 3.3 C0.5 1.3 1.9 0 3.9 0 C6.1 0 7.5 1.5 7.5 3.6 C7.5 5.8 6 7 3.4 7 C6.2 7 7.8 8.5 7.8 10.8 C7.8 13.2 6.2 14.8 3.9 14.8 C1.8 14.8 0.4 13.5 0 11.5" stroke-width="1.40" vector-effect="non-scaling-stroke"/></g>
<g transform="translate(7.00,608.30) rotate(-90.0) translate(11.30,0.70) scale(1.000,0.986)"><path d="M7.3 2.8 C6.9 1.1 5.6 0 3.9 0 C1.6 0 0 1.6 0 4.2 L0 10.8 C0 13.2 1.6 14.8 3.9 14.8 C6.2 14.8 7.8 13.2 7.8 10.6 C7.8 8 6.2 6.4 3.9 6.4 C1.9 6.4 0.5 7.6 0 9.2" stroke-width="1.40" vector-effect="non-scaling-stroke"/></g>
<g transform="translate(7.00,608.30) rotate(-90.0) translate(23.00,0.70) scale(1.000,0.986)"><path d="M0 3.9 A3.9 3.9 0 0 1 7.8 3.9 L7.8 10.9 A3.9 3.9 0 0 1 0 10.9 Z" stroke-width="1.40" vector-effect="non-scaling-stroke"/></g>
<g transform="translate(58.40,663.90) rotate(-90.0) translate(0.70,0.70) scale(1.000,1.007)"><path d="M5.8 0 L0 10.4 L7.8 10.4 M5.6 6.6 L5.6 14.8" stroke-width="1.40" vector-effect="non-scaling-stroke"/></g>
<g transform="translate(58.40,663.90) rotate(-90.0) translate(12.80,0.70) scale(1.000,1.007)"><path d="M0 3.9 A3.9 3.9 0 0 1 7.8 3.9 L7.8 10.9 A3.9 3.9 0 0 1 0 10.9 Z" stroke-width="1.40" vector-effect="non-scaling-stroke"/></g>
<g transform="translate(58.40,663.90) rotate(-90.0) translate(27.20,0.70) scale(1.000,1.007)"><path d="M0 14.8 L0 0 L5.3 9 L10.6 0 L10.6 14.8" stroke-width="1.40" vector-effect="non-scaling-stroke"/></g>
<g transform="translate(58.40,663.90) rotate(-90.0) translate(43.60,0.70) scale(1.000,1.007)"><path d="M7.6 4.4 L7.6 14.8 M7.6 8.2 C7.6 5.8 6 4.4 3.9 4.4 C1.5 4.4 0 6 0 8.3 L0 10.9 C0 13.2 1.5 14.8 3.9 14.8 C6 14.8 7.6 13.4 7.6 11" stroke-width="1.40" vector-effect="non-scaling-stroke"/></g>
<g transform="translate(58.40,663.90) rotate(-90.0) translate(56.60,0.70) scale(1.000,1.007)"><path d="M0 4.4 L8.6 14.8 M8.6 4.4 L0 14.8" stroke-width="1.40" vector-effect="non-scaling-stroke"/></g>
<g transform="translate(58.40,663.90) rotate(-90.0)"><rect x="69.70" y="14.41" width="1.7" height="1.7" fill="#0c0c0c" stroke="none"/></g>
<g transform="translate(103.40,542.30) rotate(0.0) translate(0.70,0.70) scale(1.000,0.953)"><path d="M1.2 3.9 A3.9 3.9 0 0 1 9 3.9 L9 10.9 A3.9 3.9 0 0 1 1.2 10.9 Z M0 15.2 L10 -0.4" stroke-width="1.40" vector-effect="non-scaling-stroke"/></g>
<g transform="translate(103.40,542.30) rotate(0.0) translate(19.60,0.70) scale(1.000,0.953)"><path d="M5.8 0 L0 10.4 L7.8 10.4 M5.6 6.6 L5.6 14.8" stroke-width="1.40" vector-effect="non-scaling-stroke"/></g>
<g transform="translate(103.40,542.30) rotate(0.0) translate(30.20,0.70) scale(1.000,0.953)"><path d="M7.3 2.8 C6.9 1.1 5.6 0 3.9 0 C1.6 0 0 1.6 0 4.2 L0 10.8 C0 13.2 1.6 14.8 3.9 14.8 C6.2 14.8 7.8 13.2 7.8 10.6 C7.8 8 6.2 6.4 3.9 6.4 C1.9 6.4 0.5 7.6 0 9.2" stroke-width="1.40" vector-effect="non-scaling-stroke"/></g>
<g transform="translate(259.20,681.20) rotate(0.0) translate(0.70,0.70) scale(1.000,0.993)"><path d="M9 3 C8.5 1.1 6.9 0 4.7 0 C1.8 0 0 1.7 0 4.4 L0 10.4 C0 13.1 1.8 14.8 4.7 14.8 C7.6 14.8 9.4 13.1 9.4 10.6 L9.4 7.8 L5 7.8" stroke-width="1.40" vector-effect="non-scaling-stroke"/></g>
<g transform="translate(259.20,681.20) rotate(0.0) translate(13.00,0.70) scale(1.000,0.993)"><path d="M0.2 3.3 C0.5 1.3 1.9 0 3.9 0 C6.1 0 7.5 1.5 7.5 3.6 C7.5 5.8 6 7 3.4 7 C6.2 7 7.8 8.5 7.8 10.8 C7.8 13.2 6.2 14.8 3.9 14.8 C1.8 14.8 0.4 13.5 0 11.5" stroke-width="1.40" vector-effect="non-scaling-stroke"/></g>
<g transform="translate(259.20,681.20) rotate(0.0) translate(23.80,0.70) scale(1.000,0.993)"><path d="M5.2 0 L0 14.8" stroke-width="1.40" vector-effect="non-scaling-stroke"/></g>
<g transform="translate(259.20,681.20) rotate(0.0) translate(30.80,0.70) scale(1.000,0.993)"><path d="M3.9 0 C6 0 7.3 1.5 7.3 3.5 C7.3 5.5 6 7 3.9 7 C1.8 7 0.5 5.5 0.5 3.5 C0.5 1.5 1.8 0 3.9 0 Z M3.9 7 C6.2 7 7.8 8.6 7.8 10.9 C7.8 13.2 6.2 14.8 3.9 14.8 C1.6 14.8 0 13.2 0 10.9 C0 8.6 1.6 7 3.9 7 Z" stroke-width="1.40" vector-effect="non-scaling-stroke"/></g>
<g transform="translate(259.20,681.20) rotate(0.0)"><path d="M43.90 1 L43.60 4.2 M46.30 1 L46.00 4.2" stroke-width="1.5" stroke-linecap="butt"/></g>
<g transform="translate(564.54,207.21) rotate(26.3) translate(0.70,0.70) scale(1.000,0.946)"><path d="M0 3.4 L3.4 0 L3.4 14.8" stroke-width="1.40" vector-effect="non-scaling-stroke"/></g>
<g transform="translate(564.54,207.21) rotate(26.3) translate(6.90,0.70) scale(1.000,0.946)"><path d="M0 3.9 A3.9 3.9 0 0 1 7.8 3.9 L7.8 10.9 A3.9 3.9 0 0 1 0 10.9 Z" stroke-width="1.40" vector-effect="non-scaling-stroke"/></g>
<circle cx="581.50" cy="220.05" r="2.5" stroke-width="1.40"/>
</g>
</svg>
</body></html>
